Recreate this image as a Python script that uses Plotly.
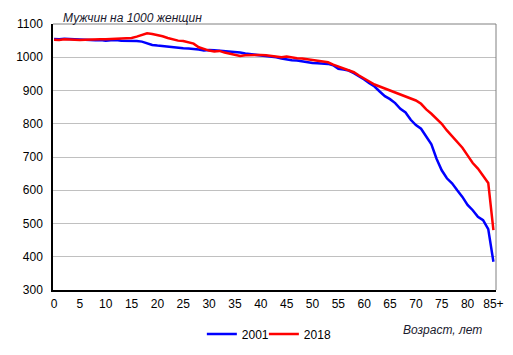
import plotly.graph_objects as go

ages = list(range(0, 86))
tick_vals = list(range(0, 86, 5))
tick_text = [str(v) for v in tick_vals[:-1]] + ["85+"]

men_2001 = [1055, 1054, 1056, 1055, 1054, 1053, 1052, 1052, 1051, 1052,
            1050, 1051, 1052, 1050, 1050, 1050, 1049, 1047, 1042, 1037,
            1035, 1033, 1031, 1029, 1028, 1027, 1026, 1025, 1023, 1020,
            1022, 1021, 1020, 1019, 1018, 1017, 1014, 1011, 1009, 1007,
            1006, 1004, 1003, 1000, 996, 993, 991, 990, 987, 985,
            983, 982, 981, 980, 976, 965, 963, 960, 952, 943,
            933, 922, 912, 897, 883, 874, 862, 845, 834, 812,
            796, 785, 760, 738, 695, 660, 636, 621, 600, 580,
            556, 540, 520, 510, 483, 385]

men_2018 = [1053, 1052, 1054, 1053, 1053, 1052, 1053, 1054, 1054, 1054,
            1054, 1055, 1055, 1055, 1056, 1058, 1062, 1066, 1072, 1070,
            1067, 1063, 1058, 1053, 1050, 1049, 1045, 1041, 1030, 1024,
            1020, 1017, 1019, 1014, 1010, 1008, 1004, 1006, 1007, 1008,
            1007, 1006, 1004, 1001, 1000, 1002, 999, 997, 996, 994,
            992, 991, 987, 985, 978, 972, 967, 962, 955, 945,
            935, 927, 918, 912, 906, 900, 893, 888, 882, 876,
            870, 860, 843, 830, 816, 800, 780, 762, 745, 728,
            705, 682, 665, 645, 622, 480]

fig = go.Figure()
fig.add_trace(go.Scatter(x=ages, y=men_2001, mode="lines", name="2001",
                         line=dict(color="#0000ff", width=2.5), legend="legend"))
fig.add_trace(go.Scatter(x=ages, y=men_2018, mode="lines", name="2018",
                         line=dict(color="#ff0000", width=2.5), legend="legend2"))

font = dict(family="Arial, Liberation Sans, sans-serif", size=12, color="#000000")

fig.update_layout(
    width=513, height=355,
    margin=dict(l=53, r=17, t=24, b=65, autoexpand=False),
    paper_bgcolor="white", plot_bgcolor="white",
    font=font,
    showlegend=True,
    legend=dict(orientation="h", x=0.336, xanchor="left", y=-0.165, yanchor="middle",
                font=dict(size=12), itemwidth=30, bgcolor="rgba(0,0,0,0)"),
    legend2=dict(orientation="h", x=0.476, xanchor="left", y=-0.165, yanchor="middle",
                 font=dict(size=12), itemwidth=30, bgcolor="rgba(0,0,0,0)"),
    xaxis=dict(range=[-0.2, 85.5], tickmode="array", tickvals=tick_vals, ticktext=tick_text,
               showgrid=False, zeroline=False, showline=True, linecolor="#000000", linewidth=1.5,
               ticks="", ticklabelstandoff=2, tickfont=font, automargin=False),
    yaxis=dict(range=[300, 1100], tickvals=list(range(300, 1101, 100)),
               showgrid=True, gridcolor="#c0c0c0", gridwidth=1, zeroline=False,
               showline=True, linecolor="#000000", linewidth=1.5, ticks="",
               ticklabelstandoff=6, tickfont=font, automargin=False),
    shapes=[
        dict(type="line", xref="paper", yref="paper", x0=0, x1=1, y0=1, y1=1,
             line=dict(color="#808080", width=1)),
        dict(type="line", xref="paper", yref="paper", x0=1, x1=1, y0=0, y1=1,
             line=dict(color="#808080", width=1)),
    ],
    annotations=[
        dict(text="<i>Мужчин на 1000 женщин</i>", xref="paper", yref="paper",
             x=0.018, y=1.022, xanchor="left", yanchor="middle", showarrow=False,
             font=dict(family="Arial, Liberation Sans, sans-serif", size=12, color="#1a1a2e")),
        dict(text="<i>Возраст, лет</i>", xref="paper", yref="paper",
             x=0.88, y=-0.152, xanchor="center", yanchor="middle", showarrow=False,
             font=dict(family="Arial, Liberation Sans, sans-serif", size=12, color="#1a1a2e")),
    ],
)

fig.write_html("out.html", config={"displayModeBar": False},
               post_script="document.body.style.margin='0';document.body.style.padding='0';")
